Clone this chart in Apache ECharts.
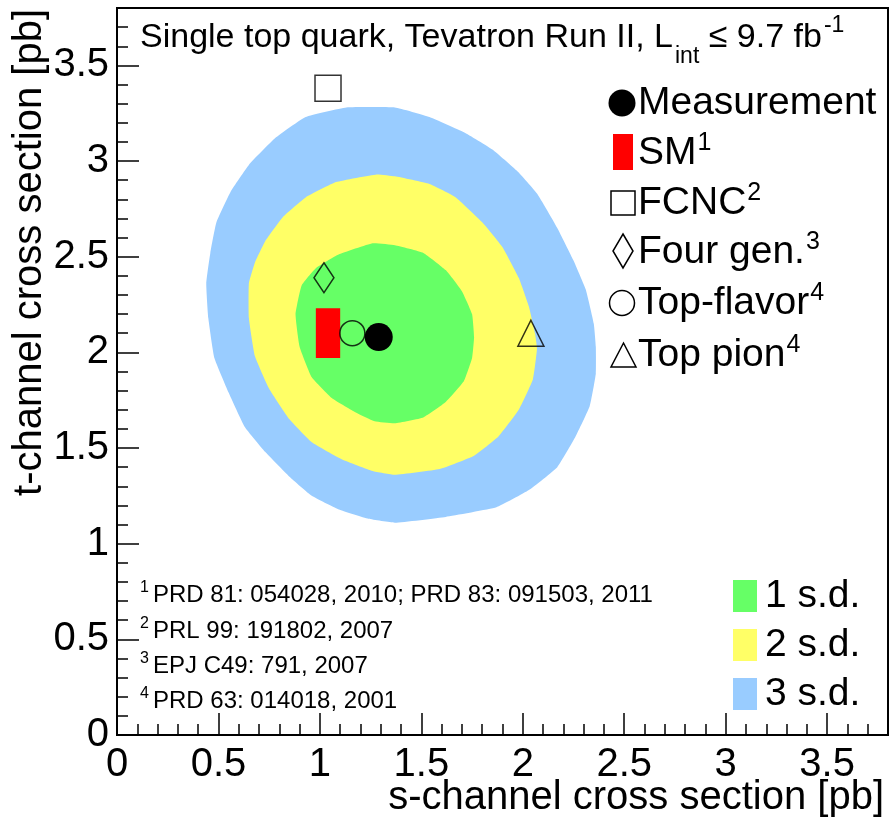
<!DOCTYPE html>
<html>
<head>
<meta charset="utf-8">
<script src="https://cdn.jsdelivr.net/npm/echarts@6/dist/echarts.min.js"></script>
<style>
html, body { margin: 0; padding: 0; background: #fff; }
#chart { width: 891px; height: 824px; }
</style>
</head>
<body>
<div id="chart"></div>
<script>
// axis range, pb
var axisMin = 0;
var axisMax = 3.8;
var majorStep = 0.5;
var minorStep = 0.1;

// [s-channel, t-channel] in pb
var measurement = [1.29, 2.08];
var smCenter = [1.04, 2.10];
var smErr = [0.06, 0.13];
var fcnc = [1.04, 3.38];
var fourGen = [1.02, 2.39];
var topFlavor = [1.16, 2.10];
var topPion = [2.04, 2.10];

// confidence contours
var contour3sd = [[0.93,3.23],[1.13,3.28],[1.37,3.28],[1.54,3.23],[1.71,3.15],[1.85,3.06],[1.97,2.95],
  [2.07,2.83],[2.17,2.65],[2.25,2.48],[2.31,2.33],[2.35,2.15],[2.36,2.03],[2.36,1.89],[2.33,1.72],[2.26,1.56],
  [2.17,1.40],[2.03,1.28],[1.87,1.19],[1.62,1.14],[1.37,1.11],[1.24,1.13],[1.09,1.18],[0.96,1.25],[0.85,1.35],
  [0.73,1.48],[0.63,1.61],[0.55,1.79],[0.48,1.97],[0.45,2.18],[0.44,2.36],[0.46,2.52],[0.49,2.68],[0.56,2.84],
  [0.65,2.98],[0.78,3.12]];
var contour2sd = [[0.93,2.81],[1.08,2.89],[1.28,2.93],[1.37,2.92],[1.54,2.88],[1.67,2.81],[1.80,2.68],[1.90,2.55],
  [1.98,2.39],[2.03,2.24],[2.06,2.10],[2.07,2.02],[2.05,1.86],[1.98,1.70],[1.88,1.56],[1.76,1.46],[1.59,1.39],
  [1.37,1.36],[1.26,1.38],[1.11,1.44],[0.96,1.53],[0.85,1.65],[0.75,1.81],[0.68,1.98],[0.65,2.18],[0.65,2.36],
  [0.68,2.47],[0.73,2.58],[0.82,2.71]];
var contour1sd = [[1.09,2.51],[1.26,2.57],[1.37,2.56],[1.51,2.52],[1.62,2.43],[1.70,2.32],[1.75,2.20],
  [1.76,2.08],[1.75,1.97],[1.71,1.85],[1.62,1.74],[1.51,1.66],[1.37,1.63],[1.27,1.64],[1.17,1.69],[1.06,1.76],
  [0.96,1.87],[0.90,2.03],[0.88,2.20],[0.91,2.35],[0.98,2.44]];

var FONT = '"Liberation Sans", Arial, Helvetica, sans-serif';
var ctx = document.createElement('canvas').getContext('2d');
function textWidth(str, size) {
  ctx.font = size + 'px ' + FONT;
  return ctx.measureText(str).width;
}
function txt(x, y, str, size, align, rotation) {
  return {
    type: 'text', x: x, y: y, rotation: rotation || 0, z: 100,
    style: {
      text: str, fontSize: size, fontFamily: FONT, fill: '#000',
      align: align || 'left', textAlign: align || 'left',
      verticalAlign: 'middle', textVerticalAlign: 'middle'
    }
  };
}
// text followed by a superscript
function supText(x, y, str, sup, size, supSize, rise) {
  var out = [txt(x, y, str, size)];
  if (sup) out.push(txt(x + textWidth(str, size) + 1, y - rise, sup, supSize));
  return out;
}

function contourSeries(points, color) {
  return {
    type: 'custom',
    silent: true,
    data: [[1, 1]],
    renderItem: function (params, api) {
      return {
        type: 'polygon',
        shape: { points: points.map(function (p) { return api.coord(p); }), smooth: 0.12 },
        style: { fill: color }
      };
    }
  };
}
function markerSeries(point, symbol, size, filled) {
  return {
    type: 'scatter',
    silent: true,
    symbol: symbol,
    symbolSize: size,
    data: [point],
    itemStyle: filled ? { color: '#000', opacity: 1 } : { color: 'rgba(0,0,0,0)', borderColor: '#000', borderWidth: 1.5 }
  };
}

var chart = echarts.init(document.getElementById('chart'));

var graphics = [];
// title
var titleMain = 'Single top quark, Tevatron Run II, L';
var tx = 140;
graphics.push(txt(tx, 38, titleMain, 34));
tx += textWidth(titleMain, 34) + 2;
graphics.push(txt(tx, 57, 'int', 23));
tx += textWidth('int', 23);
graphics.push(txt(tx, 38, ' \u2264 9.7 fb', 34));
tx += textWidth(' \u2264 9.7 fb', 34) + 2;
graphics.push(txt(tx, 26, '-1', 23));

// axis titles
graphics.push(txt(884, 798, 's-channel cross section [pb]', 40, 'right'));
graphics.push(txt(30, 9, 't-channel cross section [pb]', 40, 'right', Math.PI / 2));

// legend markers
graphics.push({ type: 'circle', shape: { cx: 622, cy: 103, r: 13.5 }, style: { fill: '#000' } });
graphics.push({ type: 'rect', shape: { x: 613, y: 134, width: 20, height: 36 }, style: { fill: '#ff0000' } });
graphics.push({ type: 'rect', shape: { x: 611, y: 191, width: 24, height: 24 }, style: { fill: 'none', stroke: '#000', lineWidth: 1.5 } });
graphics.push({ type: 'polygon', shape: { points: [[623, 234], [633, 251], [623, 268], [613, 251]] }, style: { fill: 'none', stroke: '#000', lineWidth: 1.5 } });
graphics.push({ type: 'circle', shape: { cx: 622, cy: 303, r: 12.5 }, style: { fill: 'none', stroke: '#000', lineWidth: 1.5 } });
graphics.push({ type: 'polygon', shape: { points: [[623.5, 343], [636, 367], [611, 367]] }, style: { fill: 'none', stroke: '#000', lineWidth: 1.5 } });

var legendRows = [['Measurement', '', 103], ['SM', '1', 153], ['FCNC', '2', 203],
  ['Four gen.', '3', 252], ['Top-flavor', '4', 303], ['Top pion', '4', 355]];
legendRows.forEach(function (r) {
  graphics = graphics.concat(supText(638, r[2], r[0], r[1], 39, 25, 10));
});

// s.d. legend
var sdRows = [['1 s.d.', '#66ff66', 580], ['2 s.d.', '#ffff66', 629], ['3 s.d.', '#99ccff', 678]];
sdRows.forEach(function (r) {
  graphics.push({ type: 'rect', shape: { x: 733, y: r[2], width: 24, height: 32 }, style: { fill: r[1] } });
  graphics.push(txt(765, r[2] + 16, r[0], 39));
});

// references
var refRows = [['1', 'PRD 81: 054028, 2010; PRD 83: 091503, 2011', 595], ['2', 'PRL 99: 191802, 2007', 631],
  ['3', 'EPJ C49: 791, 2007', 666], ['4', 'PRD 63: 014018, 2001', 701]];
refRows.forEach(function (r) {
  graphics.push(txt(140, r[2] - 7, r[0], 16));
  graphics.push(txt(153, r[2], r[1], 24));
});

function valueAxis(step, major, pos) {
  return {
    type: 'value', min: axisMin, max: axisMax, interval: step, position: pos, offset: 0,
    axisLine: { show: major, onZero: false, lineStyle: { color: '#000', width: 2 } },
    axisTick: { show: true, inside: true, length: major ? 22 : 11, lineStyle: { color: '#000', width: 1.5 } },
    axisLabel: {
      show: major, showMaxLabel: false, color: '#000', fontSize: 40, fontFamily: FONT,
      margin: pos === 'bottom' ? 10 : 8,
      formatter: function (v) { return v > 3.75 ? '' : String(v); }
    },
    splitLine: { show: false }
  };
}

chart.setOption({
  animation: false,
  backgroundColor: '#fff',
  grid: { left: 117, right: 3, top: 8, bottom: 89, show: true, borderColor: '#000', borderWidth: 2 },
  xAxis: [valueAxis(majorStep, true, 'bottom'), valueAxis(minorStep, false, 'bottom')],
  yAxis: [valueAxis(majorStep, true, 'left'), valueAxis(minorStep, false, 'left')],
  series: [
    contourSeries(contour3sd, '#99ccff'),
    contourSeries(contour2sd, '#ffff66'),
    contourSeries(contour1sd, '#66ff66'),
    {
      type: 'custom',
      silent: true,
      data: [smCenter],
      renderItem: function (params, api) {
        var p0 = api.coord([smCenter[0] - smErr[0], smCenter[1] + smErr[1]]);
        var p1 = api.coord([smCenter[0] + smErr[0], smCenter[1] - smErr[1]]);
        return { type: 'rect', shape: { x: p0[0], y: p0[1], width: p1[0] - p0[0], height: p1[1] - p0[1] }, style: { fill: '#ff0000' } };
      }
    },
    markerSeries(fcnc, 'rect', 26, false),
    markerSeries(fourGen, 'diamond', [20, 30], false),
    markerSeries(topFlavor, 'circle', 25, false),
    markerSeries(topPion, 'triangle', 26, false),
    markerSeries(measurement, 'circle', 28, true)
  ],
  graphic: { elements: graphics }
});
</script>
</body>
</html>
